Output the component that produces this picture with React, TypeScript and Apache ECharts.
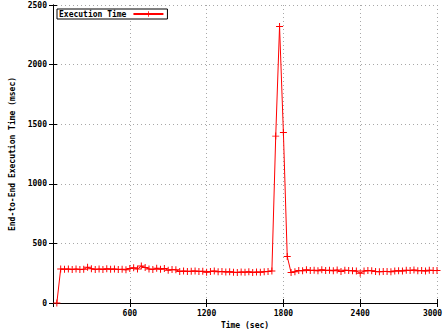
import React, { useEffect, useRef } from "react";
import * as echarts from "echarts";

const seriesName = "Execution Time";
const xTitle = "Time (sec)";
const yTitle = "End-to-End Execution Time (msec)";

const times = [
  30, 60, 90, 120, 150, 180, 210, 240, 270, 300,
  330, 360, 390, 420, 450, 480, 510, 540, 570, 600,
  630, 660, 690, 720, 750, 780, 810, 840, 870, 900,
  930, 960, 990, 1020, 1050, 1080, 1110, 1140, 1170, 1200,
  1230, 1260, 1290, 1320, 1350, 1380, 1410, 1440, 1470, 1500,
  1530, 1560, 1590, 1620, 1650, 1680, 1710, 1740, 1770, 1800,
  1830, 1860, 1890, 1920, 1950, 1980, 2010, 2040, 2070, 2100,
  2130, 2160, 2190, 2220, 2250, 2280, 2310, 2340, 2370, 2400,
  2430, 2460, 2490, 2520, 2550, 2580, 2610, 2640, 2670, 2700,
  2730, 2760, 2790, 2820, 2850, 2880, 2910, 2940, 2970, 3000,
];

const execTimes = [
  0, 285, 283, 285, 280, 285, 280, 283, 300, 288,
  280, 285, 282, 287, 283, 285, 280, 283, 278, 290,
  295, 285, 310, 298, 285, 280, 292, 283, 290, 275,
  280, 278, 265, 268, 265, 267, 268, 265, 266, 258,
  265, 268, 262, 265, 260, 262, 258, 255, 260, 258,
  262, 255, 260, 258, 263, 265, 268, 1400, 2320, 1430,
  390, 255, 262, 272, 270, 278, 272, 275, 270, 278,
  272, 275, 270, 277, 265, 275, 272, 270, 268, 250,
  268, 272, 270, 265, 262, 265, 265, 262, 268, 270,
  268, 275, 272, 277, 270, 272, 268, 275, 272, 272,
];

const FONT = "DejaVu Sans Mono";

export default function App() {
  const ref = useRef<HTMLDivElement>(null);
  useEffect(() => {
    if (!ref.current) return;
    const chart = echarts.init(ref.current, null, { renderer: "svg" });
    const plus =
      "path://M-0.14,-1H0.14V-0.14H1V0.14H0.14V1H-0.14V0.14H-1V-0.14H-0.14Z";
    const textStyle = {
      fontFamily: FONT,
      fontWeight: "bold" as const,
      fontSize: 8,
      color: "#000",
    };
    const axisLine = { show: true, lineStyle: { color: "#000", width: 1 } };
    const tick = { show: true, inside: true, length: 4, lineStyle: { color: "#000" } };
    const grid = { show: true, lineStyle: { color: "#a8a8a8", type: [1, 3] as any, width: 1 } };
    chart.setOption({
      animation: false,
      backgroundColor: "#fff",
      grid: {
        left: 53,
        right: 6,
        top: 5,
        bottom: 29,
        containLabel: false,
        outerBoundsMode: "none",
      },
      legend: {
        show: true,
        left: 57,
        top: 9,
        align: "right",
        orient: "vertical",
        itemWidth: 30,
        itemHeight: 7,
        padding: [1, 3, 1, 2],
        borderColor: "#000",
        borderWidth: 1,
        borderRadius: 0,
        backgroundColor: "#fff",
        textStyle: { ...textStyle, padding: [0, 2, 0, 0] },
        data: [{ name: seriesName }],
      },
      xAxis: [
        {
          type: "value",
          min: 0,
          max: 3000,
          interval: 600,
          name: xTitle,
          nameLocation: "middle",
          nameGap: 18,
          nameTextStyle: textStyle,
          axisLine,
          axisTick: tick,
          axisLabel: {
            ...textStyle,
            margin: 6,
            formatter: (v: number) =>
              v === 0 ? "" : v === 3000 ? "{last|" + v + "}" : String(v),
            rich: {
              last: { ...textStyle, padding: [0, 9, 0, 0] },
            },
          },
          splitLine: grid,
        },
        {
          type: "value",
          position: "top",
          min: 0,
          max: 3000,
          interval: 600,
          axisLine,
          axisTick: tick,
          axisLabel: { show: false },
          splitLine: { show: false },
        },
      ],
      yAxis: [
        {
          type: "value",
          min: 0,
          max: 2500,
          interval: 500,
          name: yTitle,
          nameLocation: "middle",
          nameGap: 35,
          nameRotate: 90,
          nameTextStyle: textStyle,
          axisLine,
          axisTick: tick,
          axisLabel: { ...textStyle, margin: 6, formatter: (v: number) => String(v) },
          splitLine: grid,
        },
        {
          type: "value",
          position: "right",
          min: 0,
          max: 2500,
          interval: 500,
          axisLine,
          axisTick: tick,
          axisLabel: { show: false },
          splitLine: { show: false },
        },
      ],
      series: [
        {
          name: seriesName,
          type: "line",
          xAxisIndex: 0,
          yAxisIndex: 0,
          data: times.map((t, i) => [t, execTimes[i]]),
          symbol: plus,
          symbolSize: 7,
          showAllSymbol: true,
          lineStyle: { color: "#ff0000", width: 1 },
          itemStyle: { color: "#ff0000" },
          emphasis: { disabled: true },
        },
      ],
    });
    return () => chart.dispose();
  }, []);
  return (
    <div
      ref={ref}
      style={{ position: "fixed", left: 0, top: 0, width: 443, height: 332 }}
    />
  );
}
